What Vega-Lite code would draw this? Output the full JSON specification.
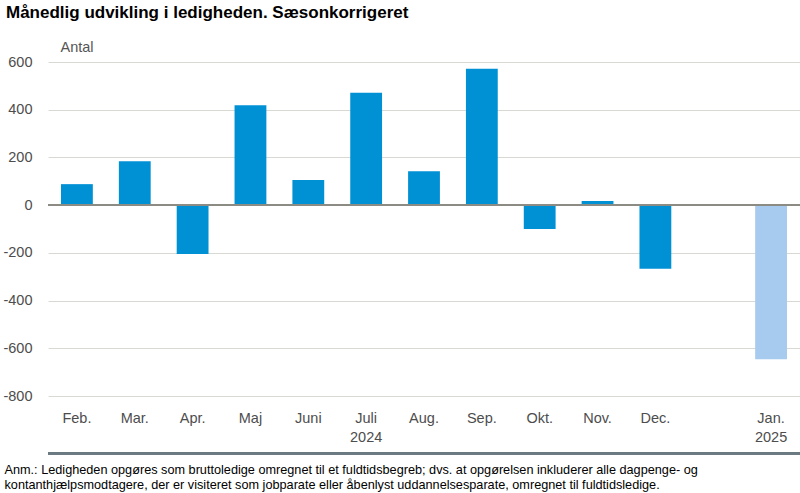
{
  "$schema": "https://vega.github.io/schema/vega-lite/v6.json",
  "autosize": {"type": "none"},
  "padding": {"left": 48, "top": 62, "right": 0, "bottom": 97},
  "width": 752,
  "height": 334,
  "background": "white",
  "title": {
    "text": "Månedlig udvikling i ledigheden. Sæsonkorrigeret",
    "anchor": "start",
    "frame": "group",
    "dx": -42,
    "offset": 17,
    "font": "Liberation Sans, Arial, sans-serif",
    "fontSize": 17,
    "fontWeight": "bold",
    "color": "#000000"
  },
  "config": {
    "view": {"stroke": null},
    "font": "Liberation Sans, Arial, sans-serif"
  },
  "data": {
    "values": [
      {"m": "Feb.", "v": 88, "type": "a"},
      {"m": "Mar.", "v": 184, "type": "a"},
      {"m": "Apr.", "v": -205, "type": "a"},
      {"m": "Maj", "v": 419, "type": "a"},
      {"m": "Juni", "v": 105, "type": "a"},
      {"m": "Juli", "v": 471, "type": "a"},
      {"m": "Aug.", "v": 142, "type": "a"},
      {"m": "Sep.", "v": 572, "type": "a"},
      {"m": "Okt.", "v": -100, "type": "a"},
      {"m": "Nov.", "v": 17, "type": "a"},
      {"m": "Dec.", "v": -267, "type": "a"},
      {"m": "Jan.", "v": -646, "type": "b"}
    ]
  },
  "layer": [
    {
      "mark": {"type": "bar"},
      "encoding": {
        "x": {
          "field": "m",
          "type": "nominal",
          "sort": null,
          "scale": {
            "domain": ["Feb.", "Mar.", "Apr.", "Maj", "Juni", "Juli", "Aug.", "Sep.", "Okt.", "Nov.", "Dec.", " ", "Jan."],
            "paddingInner": 0.45,
            "paddingOuter": 0.225
          },
          "axis": {
            "orient": "bottom",
            "domain": false,
            "ticks": false,
            "grid": false,
            "labelAngle": 0,
            "labelPadding": 15,
            "labelFont": "Liberation Sans, Arial, sans-serif",
            "labelFontSize": 14.5,
            "labelColor": "#4d4d4d",
            "labelLineHeight": 19,
            "labelExpr": "datum.value == 'Juli' ? ['Juli', '2024'] : datum.value == 'Jan.' ? ['Jan.', '2025'] : datum.value",
            "title": [
              "Anm.: Ledigheden opgøres som bruttoledige omregnet til et fuldtidsbegreb; dvs. at opgørelsen inkluderer alle dagpenge- og",
              "kontanthjælpsmodtagere, der er visiteret som jobparate eller åbenlyst uddannelsesparate, omregnet til fuldtidsledige."
            ],
            "titleAlign": "left",
            "titleAnchor": "start",
            "titleBaseline": "top",
            "titleX": -44,
            "titleY": 67,
            "titleFont": "Liberation Sans, Arial, sans-serif",
            "titleFontSize": 12.7,
            "titleFontWeight": "normal",
            "titleColor": "#000000",
            "titleLineHeight": 15
          }
        },
        "y": {
          "field": "v",
          "type": "quantitative",
          "scale": {"domain": [-800, 600], "nice": false, "zero": false},
          "axis": {
            "values": [-800, -600, -400, -200, 0, 200, 400, 600],
            "domain": false,
            "ticks": false,
            "grid": true,
            "gridColor": "#d9d9d4",
            "gridWidth": 1,
            "labelPadding": 16,
            "labelExpr": "toString(datum.value)",
            "labelFont": "Liberation Sans, Arial, sans-serif",
            "labelFontSize": 14.5,
            "labelColor": "#4d4d4d",
            "title": "Antal",
            "titleAngle": 0,
            "titleAlign": "left",
            "titleBaseline": "middle",
            "titleX": 12,
            "titleY": -15,
            "titleFont": "Liberation Sans, Arial, sans-serif",
            "titleFontSize": 14.5,
            "titleFontWeight": "normal",
            "titleColor": "#555555"
          }
        },
        "color": {
          "field": "type",
          "type": "nominal",
          "scale": {"domain": ["a", "b"], "range": ["#0090d4", "#a6cbee"]},
          "legend": null
        }
      }
    },
    {
      "mark": {"type": "rule", "color": "#8b8b83", "strokeWidth": 1.5},
      "encoding": {"y": {"datum": 0, "type": "quantitative"}}
    },
    {
      "mark": {"type": "rule", "color": "#6b7a80", "strokeWidth": 2},
      "encoding": {"y": {"datum": -1040, "type": "quantitative"}}
    }
  ]
}
